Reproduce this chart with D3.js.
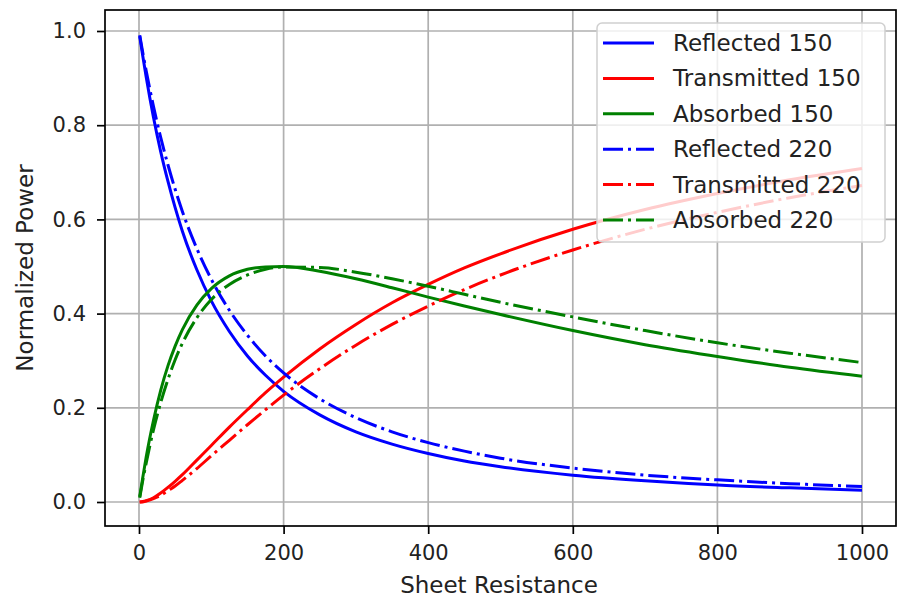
<!DOCTYPE html>
<html>
<head>
<meta charset="utf-8">
<script src="https://cdn.jsdelivr.net/npm/d3@7"></script>
<style>
  body { margin: 0; background: #fff; }
  svg text { font-family: "DejaVu Sans", sans-serif; fill: #222; }
</style>
</head>
<body>
<div id="chart"></div>
<script>
// sheet resistance samples
var xValues = [1, 5, 10, 20, 30, 40, 50, 60, 80, 100, 125, 150, 175, 200, 250, 300, 350, 400, 450, 500, 600, 700, 800, 900, 1000];

var reflected150   = [0.989,0.949,0.902,0.817,0.744,0.681,0.625,0.575,0.493,0.427,0.362,0.310,0.269,0.235,0.185,0.149,0.123,0.103,0.087,0.075,0.057,0.045,0.036,0.030,0.025];
var transmitted150 = [0.000,0.001,0.003,0.009,0.019,0.031,0.044,0.058,0.089,0.120,0.159,0.196,0.232,0.265,0.325,0.377,0.423,0.462,0.497,0.527,0.579,0.621,0.655,0.684,0.708];
var absorbed150    = [0.011,0.050,0.096,0.173,0.237,0.289,0.331,0.366,0.418,0.453,0.480,0.494,0.499,0.500,0.490,0.474,0.455,0.435,0.416,0.398,0.364,0.334,0.309,0.286,0.267];
var reflected220   = [0.991,0.956,0.915,0.840,0.774,0.716,0.664,0.617,0.538,0.473,0.407,0.354,0.310,0.274,0.219,0.179,0.149,0.126,0.108,0.093,0.072,0.057,0.047,0.039,0.033];
var transmitted220 = [0.000,0.000,0.002,0.007,0.014,0.024,0.034,0.046,0.071,0.098,0.131,0.164,0.196,0.227,0.283,0.333,0.377,0.416,0.451,0.482,0.535,0.579,0.615,0.646,0.672];
var absorbed220    = [0.009,0.044,0.083,0.153,0.211,0.260,0.302,0.337,0.391,0.430,0.462,0.482,0.494,0.499,0.498,0.488,0.474,0.458,0.441,0.424,0.393,0.364,0.338,0.316,0.296];

var seriesNames = ['Reflected 150','Transmitted 150','Absorbed 150','Reflected 220','Transmitted 220','Absorbed 220'];
var seriesValues = [reflected150, transmitted150, absorbed150, reflected220, transmitted220, absorbed220];
var seriesColors = ['#0000ff','#ff0000','#008000','#0000ff','#ff0000','#008000'];
var seriesDashed = [false,false,false,true,true,true];

var xTicks = [0, 200, 400, 600, 800, 1000];
var yTicks = [0.0, 0.2, 0.4, 0.6, 0.8, 1.0];

var width = 897, height = 599;
var frame = {left: 105, right: 896, top: 10, bottom: 526};

var x = d3.scaleLinear().domain([0, 1000]).range([139, 862]);
var y = d3.scaleLinear().domain([0, 1]).range([502, 31]);

var svg = d3.select('#chart').append('svg')
    .attr('width', width)
    .attr('height', height);

svg.append('defs').append('clipPath').attr('id', 'clip')
  .append('rect')
    .attr('x', frame.left).attr('y', frame.top)
    .attr('width', frame.right - frame.left).attr('height', frame.bottom - frame.top);

// grid
svg.append('g').selectAll('line').data(xTicks).enter().append('line')
    .attr('x1', function(d) { return x(d); }).attr('x2', function(d) { return x(d); })
    .attr('y1', frame.top).attr('y2', frame.bottom)
    .attr('stroke', '#b0b0b0').attr('stroke-width', 1.7);
svg.append('g').selectAll('line').data(yTicks).enter().append('line')
    .attr('y1', function(d) { return y(d); }).attr('y2', function(d) { return y(d); })
    .attr('x1', frame.left).attr('x2', frame.right)
    .attr('stroke', '#b0b0b0').attr('stroke-width', 1.7);

// axes
var xAxis = d3.axisBottom(x).tickValues(xTicks).tickFormat(d3.format('d')).tickSizeInner(8).tickSizeOuter(0).tickPadding(11);
var yAxis = d3.axisLeft(y).tickValues(yTicks).tickFormat(d3.format('.1f')).tickSizeInner(8).tickSizeOuter(0).tickPadding(11);

var gx = svg.append('g').attr('transform', 'translate(0,' + frame.bottom + ')').call(xAxis);
var gy = svg.append('g').attr('transform', 'translate(' + frame.left + ',0)').call(yAxis);
[gx, gy].forEach(function(g) {
  g.select('.domain').remove();
  g.selectAll('.tick line').attr('stroke', '#000').attr('stroke-width', 1.7);
  g.selectAll('.tick text').style('font-size', '21px').attr('fill', '#222');
});

// lines
var line = d3.line()
    .x(function(d) { return x(d[0]); })
    .y(function(d) { return y(d[1]); })
    .curve(d3.curveMonotoneX);

var plot = svg.append('g').attr('clip-path', 'url(#clip)');
seriesValues.forEach(function(vals, i) {
  plot.append('path')
      .datum(xValues.map(function(xv, j) { return [xv, vals[j]]; }))
      .attr('d', line)
      .attr('fill', 'none')
      .attr('stroke', seriesColors[i])
      .attr('stroke-width', 3)
      .attr('stroke-dasharray', seriesDashed[i] ? '20,5,3,5' : null);
});

// frame
svg.append('rect')
    .attr('x', frame.left).attr('y', frame.top)
    .attr('width', frame.right - frame.left).attr('height', frame.bottom - frame.top)
    .attr('fill', 'none').attr('stroke', '#000').attr('stroke-width', 1.7);

// axis labels
svg.append('text')
    .attr('x', 499).attr('y', 593)
    .attr('text-anchor', 'middle')
    .style('font-size', '23px')
    .text('Sheet Resistance');
svg.append('text')
    .attr('transform', 'translate(33,' + ((frame.top + frame.bottom) / 2) + ') rotate(-90)')
    .attr('text-anchor', 'middle')
    .style('font-size', '23px')
    .text('Normalized Power');

// legend
var legend = svg.append('g');
legend.append('rect')
    .attr('x', 597).attr('y', 23).attr('width', 288).attr('height', 219)
    .attr('rx', 5).attr('ry', 5)
    .attr('fill', 'rgba(255,255,255,0.8)')
    .attr('stroke', '#d0d0d0').attr('stroke-width', 1.5);

var items = legend.selectAll('g.item').data(seriesNames).enter().append('g')
    .attr('class', 'item')
    .attr('transform', function(d, i) { return 'translate(0,' + (43 + i * 35.4) + ')'; });
items.append('line')
    .attr('x1', 603).attr('x2', 654).attr('y1', 0).attr('y2', 0)
    .attr('stroke', function(d, i) { return seriesColors[i]; })
    .attr('stroke-width', 3)
    .attr('stroke-dasharray', function(d, i) { return seriesDashed[i] ? '20,5,3,5' : null; });
items.append('text')
    .attr('x', 673).attr('y', 0).attr('dy', '0.35em')
    .style('font-size', '23px')
    .text(function(d) { return d; });
</script>
</body>
</html>
